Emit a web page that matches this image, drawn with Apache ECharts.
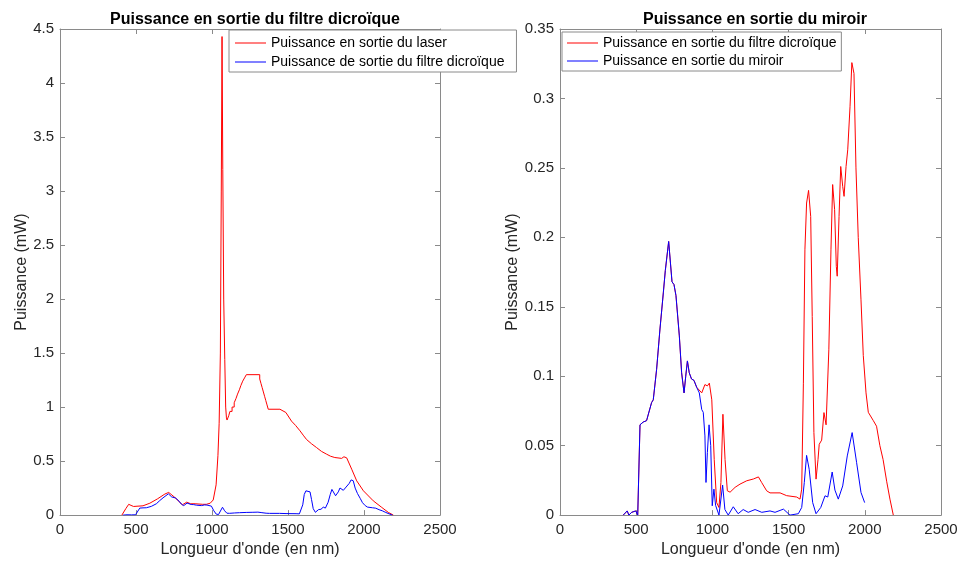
<!DOCTYPE html>
<html>
<head>
<meta charset="utf-8">
<script src="https://cdn.jsdelivr.net/npm/echarts@6/dist/echarts.min.js"></script>
<style>
  html, body { margin: 0; padding: 0; background: #fff; }
  #chart { width: 962px; height: 563px; }
</style>
</head>
<body>
<div id="chart"></div>
<script>
// Longueurs d'onde (nm) et puissances (mW)

// Puissance en sortie du laser (petites marches visibles entre 1100 et 1380 nm)
const laserNm = [407, 433, 452, 467, 484, 546, 591, 641, 690, 715, 750, 780, 805, 834, 859, 889, 938, 963, 988,
    1008, 1027, 1039, 1047, 1055, 1061, 1066, 1071, 1077, 1084, 1090, 1095, 1099,
    1110, 1118, 1118, 1132, 1132, 1146, 1146, 1158, 1158, 1168, 1168, 1180, 1180, 1190, 1190, 1202, 1202, 1214, 1214, 1226, 1226,
    1314, 1314, 1322, 1322, 1330, 1330, 1338, 1338, 1346, 1346, 1354, 1354, 1362, 1362, 1370, 1370,
    1447, 1486, 1523, 1550, 1579, 1600, 1622, 1655, 1688, 1720, 1754, 1780, 1808, 1853,
    1868, 1886, 1919, 1952, 1996, 2061, 2117, 2160, 2193];
const laserMw = [0, 0.06, 0.10, 0.09, 0.08, 0.086, 0.11, 0.15, 0.195, 0.21, 0.17, 0.13, 0.095, 0.12, 0.105, 0.105, 0.1, 0.1, 0.11,
    0.14, 0.28, 0.55, 0.85, 1.5, 3.0, 4.43, 3.2, 2.0, 1.44, 1.0, 0.9, 0.88,
    0.92, 0.92, 0.96, 0.96, 1.00, 1.00, 1.04, 1.04, 1.08, 1.08, 1.12, 1.12, 1.16, 1.16, 1.20, 1.20, 1.24, 1.24, 1.27, 1.27, 1.30,
    1.30, 1.26, 1.26, 1.22, 1.22, 1.18, 1.18, 1.14, 1.14, 1.10, 1.10, 1.06, 1.06, 1.02, 1.02, 0.98,
    0.98, 0.95, 0.87, 0.83, 0.78, 0.74, 0.70, 0.66, 0.625, 0.59, 0.564, 0.545, 0.533, 0.525,
    0.54, 0.53, 0.425, 0.317, 0.225, 0.132, 0.071, 0.025, 0];

// Puissance en sortie du filtre dichroique
const filtreNm = [415, 441, 452, 470, 497, 510, 525, 546, 568, 601, 612, 634, 656, 678, 691, 713, 735, 748, 761, 783,
    798, 814, 825, 836, 848, 863, 879, 897, 907, 930, 951, 967, 980, 996, 1012, 1028, 1043, 1056, 1069, 1083,
    1098, 1116, 1149, 1181, 1225, 1269, 1302, 1323, 1356, 1378, 1444, 1487, 1553, 1575, 1586, 1597, 1607,
    1618, 1631, 1645, 1655, 1666, 1680, 1693, 1701, 1717, 1732, 1746, 1764, 1778, 1789, 1802, 1813, 1819,
    1831, 1842, 1855, 1864, 1877, 1888, 1903, 1915, 1929, 1942, 1957, 1975, 1990, 2008, 2023, 2056, 2077,
    2099, 2120, 2144, 2165, 2187];
const filtreMw = [0, 0.003, 0, 0.002, 0.003, 0, 0.065, 0.067, 0.068, 0.081, 0.083, 0.105, 0.134, 0.160, 0.176, 0.197, 0.168, 0.166, 0.158, 0.129,
    0.1025, 0.088, 0.100, 0.111, 0.1025, 0.098, 0.097, 0.092, 0.092, 0.088, 0.094, 0.093, 0.095, 0.083, 0.040, 0.009, 0.0055, 0.0235, 0.0726, 0.040,
    0.0175, 0.0165, 0.020, 0.0223, 0.0247, 0.026, 0.0275, 0.0235, 0.0175, 0.016, 0.016, 0.014, 0.013, 0.0115, 0.0187, 0.095, 0.191,
    0.2247, 0.2338, 0.215, 0.143, 0.0594, 0.0259, 0.040, 0.051, 0.054, 0.0738, 0.065, 0.119, 0.191, 0.238, 0.220, 0.179, 0.172,
    0.215, 0.251, 0.2367, 0.2295, 0.251, 0.263, 0.294, 0.3258, 0.318, 0.25, 0.20, 0.155, 0.115, 0.088, 0.074, 0.068, 0.064,
    0.05, 0.04, 0.024, 0.0115, 0];

// Puissance en sortie du miroir
const miroirNm = [415, 441, 452, 470, 497, 510, 525, 546, 568, 601, 612, 634, 656, 678, 691, 713, 735, 748, 761, 783,
    798, 814, 825, 836, 848, 863, 879, 897, 914, 930, 940, 951, 958, 967, 978, 989, 999, 1010, 1021, 1043,
    1067, 1082, 1104, 1137, 1169, 1202, 1235, 1280, 1324, 1378, 1411, 1466, 1509, 1564, 1586, 1603, 1618,
    1635, 1658, 1680, 1711, 1739, 1757, 1786, 1804, 1826, 1855, 1885, 1917, 1946, 1975, 1999];
const miroirMw = [0, 0.003, 0, 0.002, 0.003, 0, 0.065, 0.067, 0.068, 0.081, 0.083, 0.105, 0.134, 0.160, 0.176, 0.197, 0.168, 0.166, 0.158, 0.129,
    0.1025, 0.088, 0.100, 0.111, 0.1025, 0.098, 0.097, 0.092, 0.088, 0.076, 0.074, 0.057, 0.0235, 0.045, 0.065, 0.050, 0.0067, 0.0187, 0.007, 0,
    0.0216, 0.004, 0, 0.006, 0.001, 0.004, 0.002, 0.004, 0.002, 0.003, 0.002, 0.0043, 0, 0.001, 0.0055, 0.0235, 0.043,
    0.033, 0.009, 0.001, 0.0055, 0.0139, 0.013, 0.031, 0.018, 0.0115, 0.021, 0.0426, 0.0594, 0.038, 0.0163, 0.009];

const xTicks = { min: 0, max: 2500, interval: 500 };
const leftTicks = { min: 0, max: 4.5, interval: 0.5 };
const rightTicks = { min: 0, max: 0.35, interval: 0.05 };

const RED = '#ff0000';
const BLUE = '#0000ff';
const AXIS_GRAY = '#8a8a8a';
const LABEL_COLOR = '#262626';
const FONT = 'Liberation Sans, Arial, sans-serif';

const zip = (xs, ys) => xs.map((x, i) => [x, ys[i]]);
const plainNumber = v => String(Math.round(v * 1000) / 1000);

function xAxisPair(gridIndex) {
    const base = {
        type: 'value',
        gridIndex,
        min: xTicks.min,
        max: xTicks.max,
        interval: xTicks.interval,
        splitLine: { show: false },
        axisLine: { show: true, onZero: false, lineStyle: { color: AXIS_GRAY, width: 1 } },
        axisTick: { show: true, inside: true, length: 5, lineStyle: { color: AXIS_GRAY } }
    };
    return [
        Object.assign({}, base, {
            position: 'bottom',
            name: "Longueur d'onde (en nm)",
            nameLocation: 'middle',
            nameGap: 23,
            nameTextStyle: { color: LABEL_COLOR, fontSize: 16, fontFamily: FONT },
            axisLabel: { color: LABEL_COLOR, fontSize: 15, fontFamily: FONT, margin: 7, formatter: plainNumber }
        }),
        Object.assign({}, base, { position: 'top', axisLabel: { show: false } })
    ];
}

function yAxisPair(gridIndex, ticks, nameGap) {
    const base = {
        type: 'value',
        gridIndex,
        min: ticks.min,
        max: ticks.max,
        interval: ticks.interval,
        splitLine: { show: false },
        axisLine: { show: true, onZero: false, lineStyle: { color: AXIS_GRAY, width: 1 } },
        axisTick: { show: true, inside: true, length: 5, lineStyle: { color: AXIS_GRAY } }
    };
    return [
        Object.assign({}, base, {
            position: 'left',
            name: 'Puissance (mW)',
            nameLocation: 'middle',
            nameGap,
            nameTextStyle: { color: LABEL_COLOR, fontSize: 16, fontFamily: FONT },
            axisLabel: { color: LABEL_COLOR, fontSize: 15, fontFamily: FONT, margin: 6, formatter: plainNumber }
        }),
        Object.assign({}, base, { position: 'right', axisLabel: { show: false } })
    ];
}

function lineSeries(name, data, color, xi, yi, z) {
    return {
        name,
        type: 'line',
        data,
        xAxisIndex: xi,
        yAxisIndex: yi,
        symbol: 'none',
        smooth: false,
        animation: false,
        lineStyle: { color, width: 1 },
        itemStyle: { color },
        z
    };
}

const chart = echarts.init(document.getElementById('chart'), null, { renderer: 'canvas' });

const legendBase = {
    orient: 'vertical',
    backgroundColor: '#ffffff',
    borderColor: '#8a8a8a',
    borderWidth: 1,
    borderRadius: 0,
    icon: 'rect',
    itemWidth: 31,
    itemHeight: 1,
    textStyle: { color: '#000', fontSize: 14, lineHeight: 14, fontFamily: FONT },
    selectedMode: false,
    z: 20
};

chart.setOption({
    animation: false,
    backgroundColor: '#ffffff',
    title: [
        {
            text: 'Puissance en sortie du filtre dicroïque',
            left: 250, top: 7, textAlign: 'center',
            textStyle: { fontSize: 16, fontWeight: 'bold', color: '#000', fontFamily: FONT }
        },
        {
            text: 'Puissance en sortie du miroir',
            left: 750, top: 7, textAlign: 'center',
            textStyle: { fontSize: 16, fontWeight: 'bold', color: '#000', fontFamily: FONT }
        }
    ],
    legend: [
        Object.assign({}, legendBase, {
            left: 229, top: 30,
            padding: [6, 12, 3, 6],
            itemGap: 5,
            itemTextGap: 3,
            data: ['Puissance en sortie du laser', 'Puissance de sortie du filtre dicroïque']
        }),
        Object.assign({}, legendBase, {
            left: 562, top: 32,
            padding: [4, 1, 3, 5],
            itemGap: 4,
            itemTextGap: 4,
            data: ['Puissance en sortie du filtre dicroïque ', 'Puissance en sortie du miroir']
        })
    ],
    grid: [
        { left: 60, top: 29, width: 380, height: 487, containLabel: false },
        { left: 560, top: 29, width: 381, height: 487, containLabel: false }
    ],
    xAxis: [...xAxisPair(0), ...xAxisPair(1)],
    yAxis: [...yAxisPair(0, leftTicks, 30), ...yAxisPair(1, rightTicks, 39)],
    series: [
        lineSeries('Puissance en sortie du laser', zip(laserNm, laserMw), RED, 0, 0, 2),
        lineSeries('Puissance de sortie du filtre dicroïque', zip(filtreNm, filtreMw), BLUE, 0, 0, 3),
        lineSeries('Puissance en sortie du filtre dicroïque ', zip(filtreNm, filtreMw), RED, 2, 2, 2),
        lineSeries('Puissance en sortie du miroir', zip(miroirNm, miroirMw), BLUE, 2, 2, 3)
    ]
});
</script>
</body>
</html>
